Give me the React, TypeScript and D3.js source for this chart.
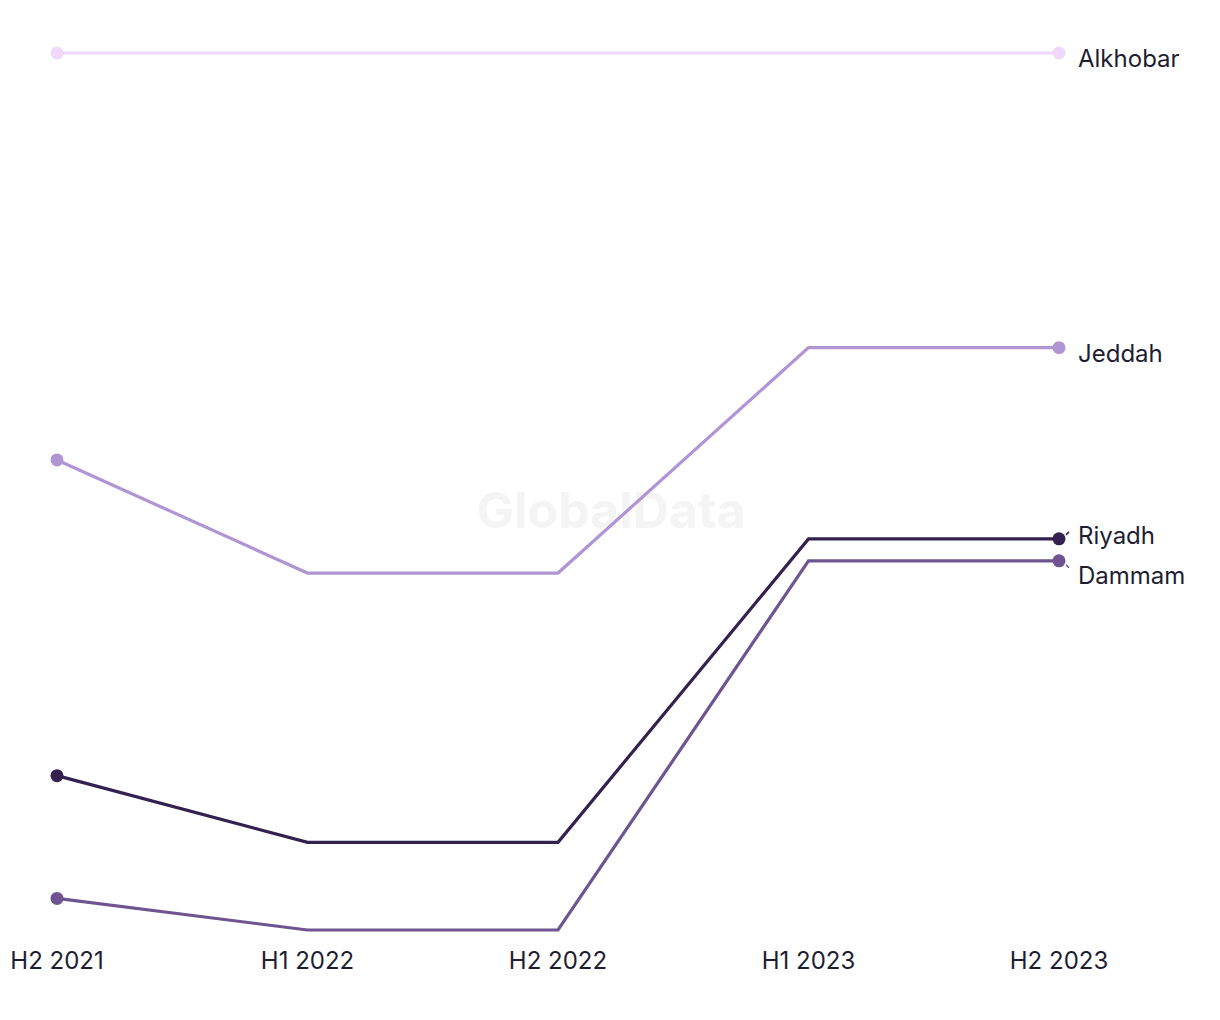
import React from "react";
import * as d3 from "d3";

const periods = ["H2 2021", "H1 2022", "H2 2022", "H1 2023", "H2 2023"];
const cities = ["Alkhobar", "Jeddah", "Riyadh", "Dammam"];
const alkhobar = [100, 100, 100, 100, 100];
const jeddah = [53.6, 40.7, 40.7, 66.4, 66.4];
const riyadh = [17.6, 10.0, 10.0, 44.6, 44.6];
const dammam = [3.6, 0, 0, 42.1, 42.1];
const colors = ["#f0d8fa", "#b095d5", "#33214f", "#6e5591"];
const labelOffsets = [6, 6, -3, 15];

const W = 1220, H = 1020;

export default function App() {
  const x = d3.scalePoint<string>().domain(periods).range([57, 1059]);
  const y = d3.scaleLinear().domain([0, 100]).range([930, 53]);
  const series = [alkhobar, jeddah, riyadh, dammam];
  const line = d3.line<number>().x((_, i) => x(periods[i])!).y((d) => y(d));
  const font = "'Inter', 'Noto Sans', sans-serif";
  return (
    <svg width={W} height={H} style={{ position: "absolute", left: 0, top: 0, background: "#fff" }}>
      <text x={611} y={528} textAnchor="middle" fontFamily={font} fontWeight={700} fontSize={50} fill="#f4f4f4">GlobalData</text>
      {series.map((s, k) => (
        <g key={cities[k]}>
          <path d={line(s) || ""} fill="none" stroke={colors[k]} strokeWidth={3.2} />
          {[0, s.length - 1].map((i) => (
            <circle key={i} cx={x(periods[i])} cy={y(s[i])} r={6.5} fill={colors[k]} />
          ))}
          {labelOffsets[k] !== 6 && (
            <line x1={x(periods[4])! + 7} x2={x(periods[4])! + 10}
              y1={y(s[4]) + (labelOffsets[k] < 6 ? -4 : 4)} y2={y(s[4]) + (labelOffsets[k] < 6 ? -7 : 7)}
              stroke={colors[k]} strokeWidth={1.5} />
          )}
          <text x={1078} y={y(s[4]) + labelOffsets[k] + 8} fontFamily={font} fontSize={24} fill="#1e1e32">{cities[k]}</text>
        </g>
      ))}
      {periods.map((p) => (
        <text key={p} x={x(p)} y={969} textAnchor="middle" fontFamily={font} fontSize={24} fill="#1e1e32">{p}</text>
      ))}
    </svg>
  );
}
